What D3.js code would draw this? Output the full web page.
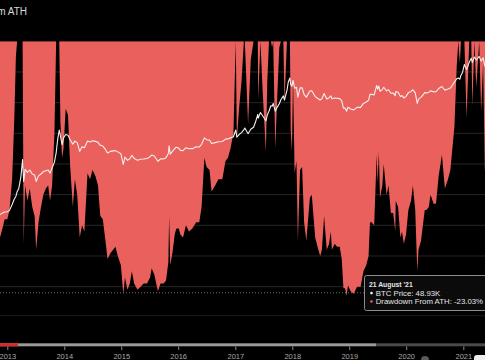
<!DOCTYPE html>
<html>
<head>
<meta charset="utf-8">
<script src="https://cdn.jsdelivr.net/npm/d3@7"></script>
<style>
html, body { margin: 0; padding: 0; background: #000; overflow: hidden; }
svg { display: block; font-family: "Liberation Sans", Arial, sans-serif; }
</style>
</head>
<body>
<div id="chart"></div>
<script>
// dates of the samples, one line per year
const dates = [
  "2012-11-01", "2012-11-15", "2012-12-01", "2012-12-15",
  "2013-01-01", "2013-01-15", "2013-02-01", "2013-02-15", "2013-02-25", "2013-03-05", "2013-03-15", "2013-03-29", "2013-04-09", "2013-04-16", "2013-04-25", "2013-05-10", "2013-05-25", "2013-06-10", "2013-06-25", "2013-07-05", "2013-07-20", "2013-08-05", "2013-08-20", "2013-09-05", "2013-09-20", "2013-10-02", "2013-10-15", "2013-10-30", "2013-11-10", "2013-11-20", "2013-11-30", "2013-12-07", "2013-12-18", "2013-12-27",
  "2014-01-10", "2014-01-25", "2014-02-08", "2014-02-25", "2014-03-10", "2014-03-25", "2014-04-10", "2014-04-25", "2014-05-10", "2014-05-30", "2014-06-15", "2014-07-01", "2014-07-20", "2014-08-05", "2014-08-20", "2014-09-05", "2014-09-22", "2014-10-05", "2014-10-25", "2014-11-10", "2014-11-25", "2014-12-10", "2014-12-30",
  "2015-01-14", "2015-01-25", "2015-02-10", "2015-02-25", "2015-03-10", "2015-03-25", "2015-04-15", "2015-05-05", "2015-05-25", "2015-06-15", "2015-07-05", "2015-07-15", "2015-08-01", "2015-08-24", "2015-09-10", "2015-09-30", "2015-10-15", "2015-10-30", "2015-11-04", "2015-11-11", "2015-11-25", "2015-12-10", "2015-12-20",
  "2016-01-05", "2016-01-15", "2016-02-01", "2016-02-20", "2016-03-10", "2016-04-01", "2016-04-25", "2016-05-15", "2016-05-30", "2016-06-17", "2016-07-01", "2016-07-20", "2016-08-02", "2016-08-25", "2016-09-15", "2016-10-10", "2016-10-30", "2016-11-15", "2016-12-01", "2016-12-20",
  "2017-01-04", "2017-01-11", "2017-01-25", "2017-02-10", "2017-02-25", "2017-03-03", "2017-03-24", "2017-04-10", "2017-04-28", "2017-05-10", "2017-05-25", "2017-05-28", "2017-06-11", "2017-06-25", "2017-07-16", "2017-07-25", "2017-08-05", "2017-08-17", "2017-08-25", "2017-09-01", "2017-09-14", "2017-09-25", "2017-10-10", "2017-10-20", "2017-11-05", "2017-11-12", "2017-11-28", "2017-12-07", "2017-12-17", "2017-12-22", "2017-12-30",
  "2018-01-06", "2018-01-16", "2018-01-28", "2018-02-06", "2018-02-20", "2018-03-05", "2018-03-18", "2018-04-01", "2018-04-24", "2018-05-06", "2018-05-28", "2018-06-12", "2018-06-29", "2018-07-10", "2018-07-24", "2018-08-10", "2018-08-25", "2018-09-05", "2018-09-12", "2018-09-30", "2018-10-15", "2018-11-01", "2018-11-14", "2018-11-25", "2018-12-05", "2018-12-15", "2018-12-24",
  "2019-01-10", "2019-01-30", "2019-02-20", "2019-03-15", "2019-04-02", "2019-04-20", "2019-05-05", "2019-05-14", "2019-05-25", "2019-06-10", "2019-06-26", "2019-07-02", "2019-07-10", "2019-07-17", "2019-08-01", "2019-08-10", "2019-08-28", "2019-09-10", "2019-09-25", "2019-10-10", "2019-10-23", "2019-10-26", "2019-11-10", "2019-11-25", "2019-12-05", "2019-12-17", "2019-12-31",
  "2020-01-15", "2020-02-01", "2020-02-13", "2020-02-28", "2020-03-12", "2020-03-20", "2020-04-05", "2020-04-29", "2020-05-10", "2020-05-25", "2020-06-05", "2020-06-25", "2020-07-10", "2020-07-27", "2020-08-17", "2020-09-05", "2020-09-25", "2020-10-10", "2020-10-21", "2020-11-05", "2020-11-20", "2020-11-30", "2020-12-10", "2020-12-17", "2020-12-27",
  "2021-01-08", "2021-01-22", "2021-02-08", "2021-02-21", "2021-02-28", "2021-03-13", "2021-03-25", "2021-04-13", "2021-04-25", "2021-05-08", "2021-05-19", "2021-06-01", "2021-06-22", "2021-07-05", "2021-07-20", "2021-08-01", "2021-08-14", "2021-08-21"
];

// BTC price in USD
const btcPrice = [
  11, 11.5, 12.5, 13.3,
  13.5, 14.5, 20, 27, 31, 40, 47, 90, 230, 70, 135, 115, 130, 105, 100, 70, 95, 105, 120, 125, 130, 110, 145, 200, 330, 700, 1150, 850, 520, 750,
  900, 870, 680, 530, 630, 580, 360, 460, 440, 630, 600, 640, 620, 590, 500, 480, 400, 330, 360, 370, 375, 350, 315,
  178, 265, 220, 240, 290, 245, 222, 235, 238, 245, 270, 295, 280, 210, 240, 237, 255, 320, 490, 310, 360, 420, 450,
  430, 380, 375, 440, 415, 417, 460, 455, 530, 750, 680, 665, 550, 580, 610, 615, 700, 710, 750, 800,
  1150, 780, 900, 1000, 1170, 1280, 940, 1200, 1340, 1750, 2700, 2200, 2980, 2500, 1900, 2600, 3250, 4300, 4200, 4900, 3200, 3900, 4800, 6000, 7400, 5900, 10000, 16000, 19500, 13800, 12500,
  17200, 11200, 11800, 6900, 11400, 11500, 7900, 6900, 9600, 9800, 7100, 6500, 5900, 6300, 8400, 6200, 6700, 7400, 6300, 6600, 6500, 6350, 5600, 3800, 3800, 3200, 4000,
  3600, 3450, 3950, 3950, 4900, 5300, 5800, 8000, 8000, 7800, 13000, 10600, 12600, 9500, 10400, 11800, 9700, 10300, 8500, 8600, 7500, 9300, 9000, 7100, 7500, 6600, 7200,
  8800, 9400, 10300, 8700, 4900, 6200, 6800, 8800, 8700, 8900, 9700, 9200, 9250, 11000, 12300, 10100, 10700, 11300, 12800, 15600, 18700, 19600, 18300, 22800, 26500,
  40800, 30800, 46000, 57400, 45100, 61200, 52000, 63500, 49000, 58800, 37000, 36700, 32500, 33800, 29800, 39900, 47000, 48930
];

// drawdown from all time high, in %
const drawdown = [
  -65, -64, -61, -58,
  -58, -55, -45, -25, -5, 0, 0, 0, 0, -66, -47, -52, -48, -54, -57, -68, -59, -54, -50, -48, -47, -52, -47, -30, 0, 0, 0, -26, -38, -35,
  -22, -24, -41, -54, -45, -50, -64, -60, -62, -43, -45, -42, -44, -47, -57, -58, -65, -71, -69, -68, -67, -70, -73,
  -82.5, -77, -81, -79, -75, -79, -81, -80, -79, -79, -77, -74, -76, -81.5, -79, -79, -78, -72, -57, -73, -69, -63, -61,
  -61, -63, -64, -60, -62, -61, -59, -59, -54, -38, -41, -42, -49, -47, -45, -45, -39, -38, -35, -30,
  0, -32, -22, -13, 0, 0, -27, -6, 0, 0, 0, -19, 0, -16, -36, -13, 0, 0, -2, 0, -35, -20, -2, 0, 0, -20, 0, 0, 0, -29, -36,
  -12, -43, -39, -65, -42, -41, -59, -65, -51, -50, -64, -67, -70, -68, -57, -68, -66, -62, -68, -66, -67, -67, -71, -80.5, -80.5, -83, -79.5,
  -81.5, -82.3, -80, -80, -75, -73, -70, -59, -59, -60, -37, -46, -36, -51, -47, -40, -50, -47, -56, -56, -62, -52, -54, -64, -62, -66, -63,
  -55, -52, -47, -55, -75, -68, -65, -55, -55, -54, -50, -53, -53, -44, -37, -48, -45, -42, -36, -28, -8, 0, -7, 0, 0,
  0, -25, 0, 0, -21, 0, -15, 0, -23, -7, -42, -42, -49, -47, -53, -37, -26, -23.03
];

const yearTicks = [2013, 2014, 2015, 2016, 2017, 2018, 2019, 2020, 2021];
const ddGrid = [-10, -20, -30, -40, -50, -60, -70, -80];

const width = 485, height = 360;
const parse = d3.timeParse("%Y-%m-%d");
const data = dates.map((d, i) => ({ date: parse(d), price: btcPrice[i], dd: drawdown[i] }));

const svg = d3.select("#chart")
    .append("svg")
    .attr("width", width)
    .attr("height", height);

svg.append("rect")
    .attr("width", width)
    .attr("height", height)
    .attr("fill", "#000");

// scales
const x = d3.scaleTime()
    .domain([new Date(2013, 0, 1), new Date(2021, 0, 1)])
    .range([7.3, 463.3]);

const yDD = d3.scaleLinear()
    .domain([0, -82])
    .range([41.3, 292.8]);

const yPrice = d3.scaleLog()
    .domain([10, 100000])
    .range([217.2, 48.0]);

svg.append("clipPath")
    .attr("id", "plot-clip")
    .append("rect")
    .attr("x", 0)
    .attr("y", yDD(0))
    .attr("width", width)
    .attr("height", height - yDD(0));

const plot = svg.append("g").attr("clip-path", "url(#plot-clip)");

// grid lines (only visible on the black part)
plot.selectAll(".grid")
    .data(ddGrid)
    .enter()
    .append("line")
    .attr("x1", 0)
    .attr("x2", width)
    .attr("y1", d => yDD(d))
    .attr("y2", d => yDD(d))
    .attr("stroke", "#262626")
    .attr("stroke-width", 1);

// drawdown area, hanging from the top
const area = d3.area()
    .x(d => x(d.date))
    .y0(yDD(0))
    .y1(d => yDD(d.dd));

plot.append("path")
    .datum(data)
    .attr("d", area)
    .attr("fill", "#e9605c");

// price line
const line = d3.line()
    .x(d => x(d.date))
    .y(d => yPrice(d.price));

plot.append("path")
    .datum(data)
    .attr("d", line)
    .attr("fill", "none")
    .attr("stroke", "#f4f0ee")
    .attr("stroke-width", 1.1)
    .attr("stroke-linejoin", "round");

// dotted bottom line of the plot
svg.append("line")
    .attr("x1", 0)
    .attr("x2", width)
    .attr("y1", yDD(-82))
    .attr("y2", yDD(-82))
    .attr("stroke", "#8a8a8a")
    .attr("stroke-width", 0.8)
    .attr("stroke-dasharray", "1,2");

svg.append("line")
    .attr("x1", 0)
    .attr("x2", width)
    .attr("y1", 315.7)
    .attr("y2", 315.7)
    .attr("stroke", "#1c1c1c")
    .attr("stroke-width", 1);

// progress bar at the bottom
svg.append("rect").attr("x", 0).attr("y", 343.3).attr("width", 376).attr("height", 3).attr("fill", "#9a9a9a");
svg.append("rect").attr("x", 376).attr("y", 343.3).attr("width", width - 376).attr("height", 3).attr("fill", "#4a4a4a");
svg.append("rect").attr("x", 0).attr("y", 343.3).attr("width", 18).attr("height", 3).attr("fill", "#e0262a");

// x axis
const xAxis = svg.append("g")
    .attr("transform", "translate(0,346.5)")
    .call(d3.axisBottom(x)
        .tickValues(yearTicks.map(yr => new Date(yr, 0, 1)))
        .tickFormat(d3.timeFormat("%Y"))
        .tickSize(3.5));

xAxis.select(".domain").remove();
xAxis.selectAll(".tick line").attr("stroke", "#8c8c8c");
xAxis.selectAll(".tick text")
    .attr("y", 7)
    .attr("fill", "#a8a8a8")
    .style("font-size", "7.5px")
    .style("font-family", "'Liberation Sans', Arial, sans-serif");

// title (cut at the left edge)
svg.append("text")
    .attr("x", 27)
    .attr("y", 15)
    .attr("text-anchor", "end")
    .attr("fill", "#dadada")
    .style("font-size", "10px")
    .text("Bitcoin Drawdown From ATH");

// tooltip for the last point
const last = data[data.length - 1];
const tip = svg.append("g").attr("transform", "translate(364.5,275.5)");

tip.append("rect")
    .attr("width", 135)
    .attr("height", 35)
    .attr("rx", 2)
    .attr("fill", "rgba(12,12,12,0.92)")
    .attr("stroke", "#8c8c8c")
    .attr("stroke-width", 1);

tip.append("text")
    .attr("x", 4.5)
    .attr("y", 11.8)
    .attr("fill", "#e6e6e6")
    .style("font-size", "6.8px")
    .style("font-weight", "bold")
    .text(d3.timeFormat("%-d %B '%y")(last.date));

tip.append("circle").attr("cx", 7).attr("cy", 17.6).attr("r", 1.3).attr("fill", "#f4f0ee");
tip.append("text")
    .attr("x", 11.2)
    .attr("y", 20)
    .attr("fill", "#e6e6e6")
    .style("font-size", "7.8px")
    .text("BTC Price: " + (last.price / 1000).toFixed(2) + "K");

tip.append("circle").attr("cx", 7).attr("cy", 26).attr("r", 1.3).attr("fill", "#e9605c");
tip.append("text")
    .attr("x", 11.2)
    .attr("y", 28.4)
    .attr("fill", "#e6e6e6")
    .style("font-size", "7.8px")
    .text("Drawdown From ATH: " + last.dd.toFixed(2) + "%");

// bits of the player overlay in the bottom right corner
svg.append("circle").attr("cx", 425).attr("cy", 360).attr("r", 4).attr("fill", "#5a5a5a");
svg.append("rect").attr("x", 474).attr("y", 355).attr("width", 16).attr("height", 9).attr("rx", 3).attr("fill", "#eeeeee");
</script>
</body>
</html>
